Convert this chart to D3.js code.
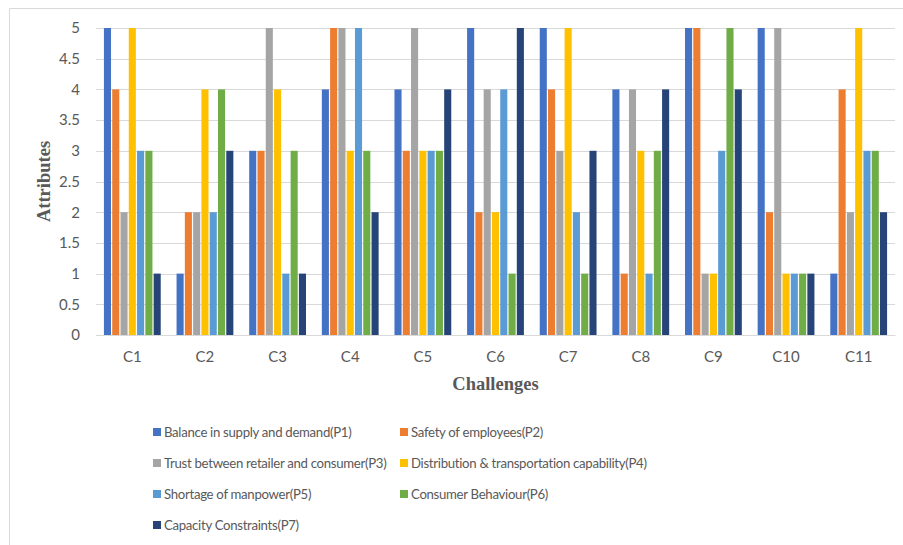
<!DOCTYPE html>
<html><head><meta charset="utf-8">
<script src="https://cdn.jsdelivr.net/npm/d3@7"></script>
<style>body{margin:0;background:#fff}svg{display:block}</style>
</head><body>
<svg id="chart" width="903" height="545"></svg>
<script>
const categories = ["C1","C2","C3","C4","C5","C6","C7","C8","C9","C10","C11"];
const seriesNames = [
  "Balance in supply and demand(P1)",
  "Safety of employees(P2)",
  "Trust between retailer and consumer(P3)",
  "Distribution & transportation capability(P4)",
  "Shortage of manpower(P5)",
  "Consumer Behaviour(P6)",
  "Capacity Constraints(P7)"
];
const P1 = [5,1,3,4,4,5,5,4,5,5,1];
const P2 = [4,2,3,5,3,2,4,1,5,2,4];
const P3 = [2,2,5,5,5,4,3,4,1,5,2];
const P4 = [5,4,4,3,3,2,5,3,1,1,5];
const P5 = [3,2,1,5,3,4,2,1,3,1,3];
const P6 = [3,4,3,3,3,1,1,3,5,1,3];
const P7 = [1,3,1,2,4,5,3,4,4,1,2];
const yTicks = [0,0.5,1,1.5,2,2.5,3,3.5,4,4.5,5];
const colors = ["#4472C4","#ED7D31","#A5A5A5","#FFC000","#5B9BD5","#70AD47","#264478"];

(function(){
const series = [P1,P2,P3,P4,P5,P6,P7];
const svg = d3.select("#chart");
const pLeft = 96, pRight = 895, pTop = 28, pBottom = 335;
const labelFont = "Lato, 'Open Sans', sans-serif";

// chart border (left and top visible)
svg.append("line").attr("x1",9.5).attr("x2",9.5).attr("y1",8.5).attr("y2",545).attr("stroke","#D9D9D9");
svg.append("line").attr("x1",9.5).attr("x2",903).attr("y1",8.5).attr("y2",8.5).attr("stroke","#D9D9D9");

const x0 = d3.scaleBand().domain(categories).range([pLeft, pRight]).paddingInner(0).paddingOuter(0);
const innerW = 58;
const x1 = d3.scaleBand().domain(d3.range(7)).range([0, innerW]);
const y = d3.scaleLinear().domain([0,5]).range([pBottom, pTop]);

// gridlines
svg.append("g").selectAll("line").data(yTicks).join("line")
  .attr("x1", pLeft).attr("x2", pRight)
  .attr("y1", d => Math.round(y(d)) + 0.5).attr("y2", d => Math.round(y(d)) + 0.5)
  .attr("stroke", "#D9D9D9").attr("stroke-width", 1);

// y axis labels
const yAxis = d3.axisLeft(y).tickValues(yTicks).tickSize(0).tickPadding(0).tickFormat(d3.format("~g"));
const gy = svg.append("g").attr("transform", `translate(${80},0)`).call(yAxis);
gy.select(".domain").remove();
gy.selectAll("text").attr("fill","#595959").style("font-family",labelFont).style("font-size","15px");

// bars
const groups = svg.append("g").selectAll("g").data(categories).join("g")
  .attr("transform", c => `translate(${x0(c) + (x0.bandwidth() - innerW)/2},0)`);
groups.selectAll("rect").data((c, i) => series.map((s, k) => ({k, v: s[i]}))).join("rect")
  .attr("x", d => x1(d.k) + 0.6)
  .attr("width", x1.bandwidth() - 1.2)
  .attr("y", d => y(d.v))
  .attr("height", d => y(0) - y(d.v))
  .attr("fill", d => colors[d.k]);

// x axis
const xAxis = d3.axisBottom(x0).tickSize(0).tickPadding(16);
const gx = svg.append("g").attr("transform", `translate(0,${pBottom})`).call(xAxis);
gx.select(".domain").attr("stroke","#D9D9D9");
gx.selectAll("text").attr("fill","#595959").style("font-family",labelFont).style("font-size","15px");

// axis titles
svg.append("text").attr("x", (pLeft+pRight)/2).attr("y", 390).attr("text-anchor","middle")
  .style("font-family","'Liberation Serif', 'Times New Roman', serif").style("font-weight","bold")
  .style("font-size","18.5px").attr("fill","#595959").text("Challenges");
svg.append("text").attr("transform", `translate(50,${(pTop+pBottom)/2}) rotate(-90)`).attr("text-anchor","middle")
  .style("font-family","'Liberation Serif', 'Times New Roman', serif").style("font-weight","bold")
  .style("font-size","18.5px").attr("fill","#595959").text("Attributes");

// legend
const legend = svg.append("g");
seriesNames.forEach((name, k) => {
  const col = k % 2, row = Math.floor(k / 2);
  const lx = col === 0 ? 153 : 400;
  const ly = 432 + row * 31;
  legend.append("rect").attr("x", lx).attr("y", ly - 4).attr("width", 8).attr("height", 8).attr("fill", colors[k]);
  legend.append("text").attr("x", lx + 11).attr("y", ly).attr("dy","0.35em")
    .style("font-family",labelFont).style("font-size","13.2px").style("letter-spacing","-0.3px")
    .attr("fill","#595959").text(name);
});
})();
</script>
</body></html>
